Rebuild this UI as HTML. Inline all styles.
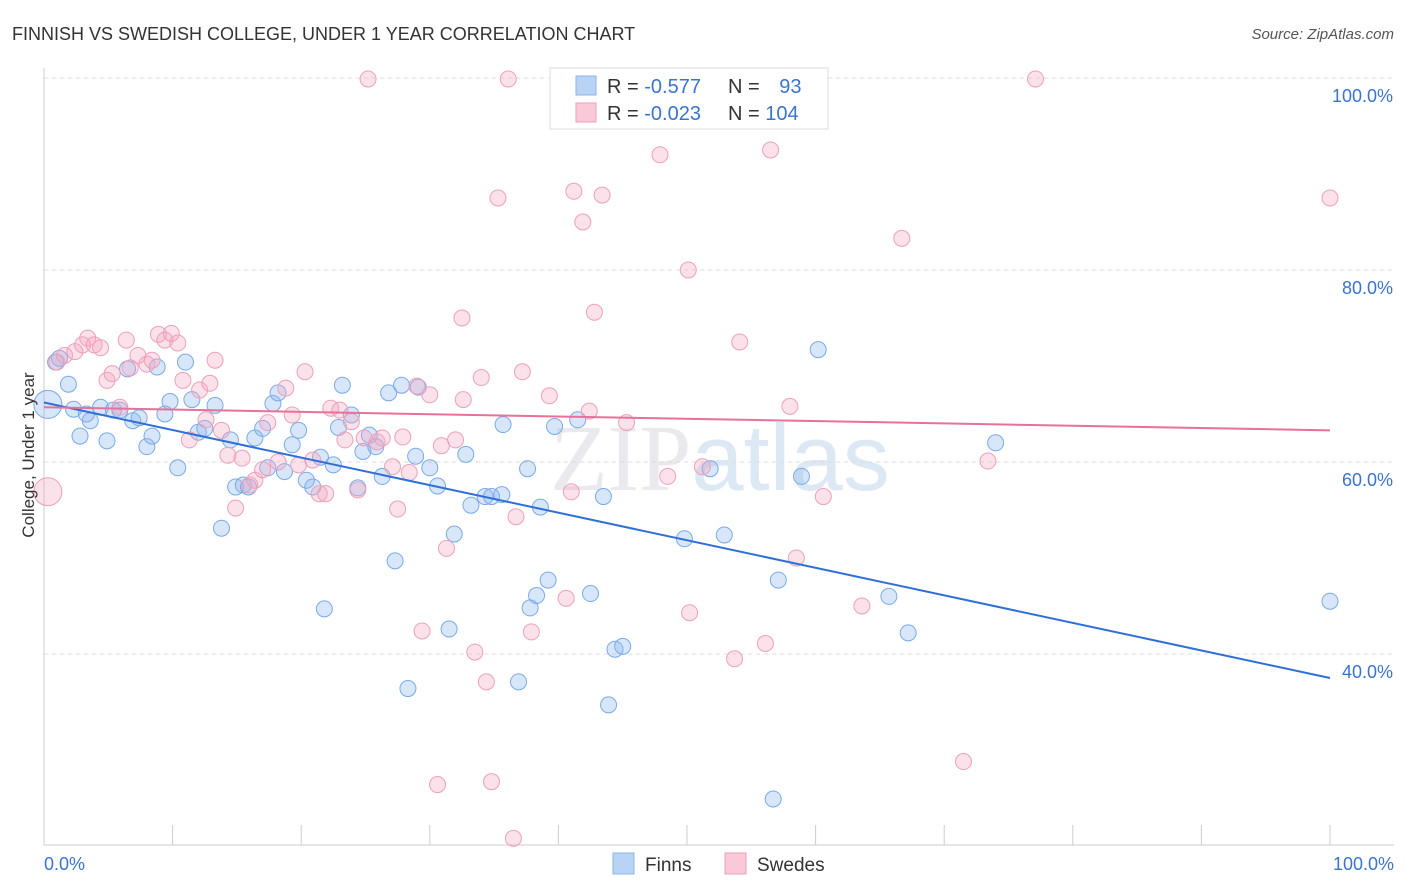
<!DOCTYPE html>
<html><head><meta charset="utf-8"><style>
body{margin:0;background:#fff;font-family:"Liberation Sans",sans-serif;}
svg{display:block}
</style></head><body>
<svg id="chart" width="1406" height="892">
<text x="12" y="40" font-size="18" fill="#333">FINNISH VS SWEDISH COLLEGE, UNDER 1 YEAR CORRELATION CHART</text>
<text x="1394" y="39" font-size="15" fill="#555" font-style="italic" text-anchor="end">Source: ZipAtlas.com</text>
<text x="720" y="490" font-size="94" fill="#e9e9ee" text-anchor="middle" font-family="Liberation Serif,serif">ZIP<tspan fill="#dde8f5" font-family="Liberation Sans,sans-serif">atlas</tspan></text>
<g id="grid"></g><g id="axes"></g><g id="pts"></g><g id="trend"></g>
<text transform="translate(34,455) rotate(-90)" font-size="17" fill="#333" text-anchor="middle">College, Under 1 year</text>
<g>
<rect x="550" y="68" width="278" height="61" fill="#fff" stroke="#ddd"/>
<rect x="576" y="76" width="20" height="19" fill="#b9d3f5" stroke="#8ab4ea"/>
<rect x="576" y="103" width="20" height="19" fill="#f9c9d8" stroke="#ee9fba"/>
<text x="607" y="93" font-size="20" fill="#333">R = <tspan fill="#3a74d0">-0.577</tspan></text>
<text x="728" y="93" font-size="20" fill="#333">N = <tspan fill="#3a74d0" dx="14">93</tspan></text>
<text x="607" y="120" font-size="20" fill="#333">R = <tspan fill="#3a74d0">-0.023</tspan></text>
<text x="728" y="120" font-size="20" fill="#333">N = <tspan fill="#3a74d0">104</tspan></text>
</g>
<g>
<rect x="613" y="853" width="21" height="21" fill="#b9d3f5" stroke="#8ab4ea"/>
<text x="645" y="871" font-size="19" fill="#333">Finns</text>
<rect x="725" y="853" width="21" height="21" fill="#f9c9d8" stroke="#ee9fba"/>
<text x="757" y="871" font-size="19" fill="#333">Swedes</text>
</g>
</svg>
<script>
const yTicks=[40,60,80,100];
const xTickLabels=["0.0%","100.0%"];
const finnsX=[0.9,1.2,1.9,2.3,2.8,3.3,3.6,4.4,4.9,5.4,5.9,6.5,6.9,7.4,8.0,8.4,8.8,9.4,9.8,10.4,11.0,11.5,12.0,12.5,13.3,13.8,14.5,14.9,15.5,15.9,16.4,17.0,17.4,17.8,18.2,18.7,19.3,19.8,20.4,20.9,21.5,21.8,22.5,22.9,23.2,23.9,24.4,24.8,25.3,25.8,26.3,26.8,27.3,27.8,28.3,28.9,29.1,30.0,30.6,31.5,31.9,32.8,33.2,34.3,34.8,35.6,35.7,36.9,37.6,37.8,38.3,38.6,39.2,39.7,41.5,42.5,43.5,43.9,44.4,45.0,49.8,51.8,52.9,56.7,57.1,58.9,60.2,65.7,67.2,74.0,100];
const finnsY=[70.4,70.8,68.1,65.5,62.7,65.0,64.3,65.7,62.2,65.4,65.4,69.7,64.3,64.6,61.6,62.7,69.9,65.0,66.3,59.4,70.4,66.5,63.1,63.5,65.9,53.1,62.3,57.4,57.6,57.4,62.5,63.5,59.4,66.1,67.2,59.0,61.8,63.3,58.1,57.4,60.5,44.7,59.7,63.6,68.0,64.9,57.3,61.1,62.8,61.6,58.5,67.2,49.7,68.0,36.4,60.6,67.8,59.4,57.5,42.6,52.5,60.8,55.5,56.4,56.4,56.6,63.9,37.1,59.3,44.8,46.1,55.3,47.7,63.7,64.4,46.3,56.4,34.7,40.5,40.8,52.0,59.3,52.4,24.9,47.7,58.5,71.7,46.0,42.2,62.0,45.5];
const swedesX=[25.2,36.1,46.7,77.1,47.9,56.5,41.2,43.4,35.3,41.9,66.7,100,50.1,32.5,42.8,54.1,1.0,1.6,2.4,3.0,3.4,3.9,4.4,4.9,5.3,5.9,6.4,6.7,7.3,8.0,8.4,8.9,9.4,9.9,10.4,10.8,11.3,12.1,12.6,12.9,13.3,13.8,14.3,14.9,15.4,16.0,16.4,17.0,17.4,18.2,18.8,19.3,19.8,20.3,20.9,21.4,21.9,22.3,23.0,23.4,23.9,24.4,24.9,25.9,26.3,27.1,27.5,27.9,28.4,29.0,29.4,30.0,30.6,30.9,31.3,32.0,32.6,33.5,34.0,34.4,34.8,36.5,36.7,37.2,37.9,39.3,40.6,41.0,42.4,45.3,48.5,50.2,51.2,53.7,56.1,58.0,58.5,60.6,63.6,71.5,73.4];
const swedesY=[99.9,99.9,99.9,99.9,92.0,92.5,88.2,87.8,87.5,85.0,83.3,87.5,80.0,75.0,75.6,72.5,70.4,71.1,71.5,72.2,72.9,72.2,71.9,68.5,69.2,65.7,72.7,69.8,71.1,70.2,70.6,73.3,72.7,73.4,72.4,68.5,62.3,67.5,64.4,68.2,70.6,63.3,60.7,55.2,60.4,57.6,58.1,59.2,64.1,60.0,67.7,64.9,59.7,69.4,60.2,56.7,56.7,65.6,65.4,62.3,64.2,57.1,62.5,62.1,62.5,59.5,55.1,62.6,58.9,67.9,42.4,67.0,26.4,61.7,51.0,62.3,66.5,40.2,68.8,37.1,26.7,20.8,54.3,69.4,42.3,66.9,45.8,56.9,65.3,64.1,58.5,44.3,59.5,39.5,41.1,65.8,50.0,56.4,45.0,28.8,60.1];
const bigPts=[{x:0.3,y:66.0,s:'f'},{x:0.3,y:56.9,s:'s'}];
const finnsTrend=[66.2,37.5];
const swedesTrend=[65.7,63.3];
const X=v=>44+v*12.86, Y=v=>78+(100-v)*9.6;
const NS='http://www.w3.org/2000/svg';
function mk(p,t,a){const e=document.createElementNS(NS,t);for(const k in a)e.setAttribute(k,a[k]);p.appendChild(e);return e;}
const grid=document.getElementById('grid'),axes=document.getElementById('axes'),pts=document.getElementById('pts'),tr=document.getElementById('trend');
yTicks.forEach(t=>{
 const l=mk(grid,'line',{x1:44,x2:1394,y1:Y(t),y2:Y(t),stroke:'#ddd','stroke-dasharray':'4,4'});
 
 
 const tx=mk(grid,'text',{x:1393,y:Y(t)+24,'font-size':18,fill:'#3a74d0','text-anchor':'end'});
 tx.textContent=t.toFixed(1)+'%';
 
 
});
mk(axes,'line',{x1:44,x2:44,y1:68,y2:845,stroke:'#ccc'});
mk(axes,'line',{x1:44,x2:1394,y1:845,y2:845,stroke:'#ccc'});
for(let i=0;i<=10;i++){const l=mk(axes,'line',{x1:X(i*10),x2:X(i*10),y1:825,y2:845,stroke:'#ccc'});
 
 }
[[0,'start',44],[1,'end',1394]].forEach(([i,a,x])=>{const t=mk(axes,'text',{x:x,y:870,'font-size':18,fill:'#3a74d0','text-anchor':a});t.textContent=xTickLabels[i];
 
 });
function dot(x,y,r,s){const c=mk(pts,'circle',{cx:X(x),cy:Y(y),r:r,fill:s=='f'?'rgba(140,182,238,0.35)':'rgba(244,168,196,0.35)',stroke:s=='f'?'#7aaae6':'#ee9fba','stroke-width':1});return c;}
finnsX.forEach((x,i)=>{const c=dot(x,finnsY[i],8,'f');
 
 });
swedesX.forEach((x,i)=>{const c=dot(x,swedesY[i],8,'s');
 
 });
bigPts.forEach(p=>{const c=dot(p.x,p.y,14,p.s);
 
 });
const t1=mk(tr,'line',{x1:X(0),y1:Y(finnsTrend[0]),x2:X(100),y2:Y(finnsTrend[1]),stroke:'#2f6fd6','stroke-width':2});


const t2=mk(tr,'line',{x1:X(0),y1:Y(swedesTrend[0]),x2:X(100),y2:Y(swedesTrend[1]),stroke:'#e8709a','stroke-width':2});


</script>
</body></html>
